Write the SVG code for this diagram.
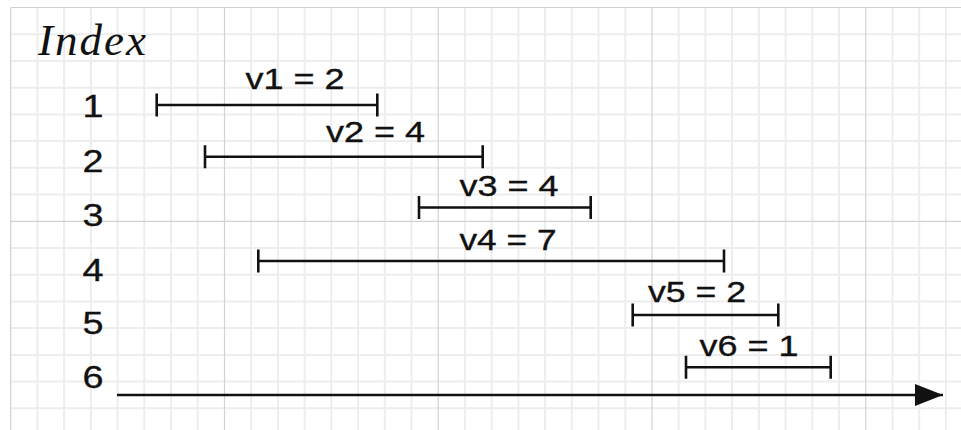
<svg xmlns="http://www.w3.org/2000/svg" width="961" height="430" viewBox="0 0 961 430">
<style>
.minor{stroke:#ededed;stroke-width:2;fill:none}
.major{stroke:#d2d2d2;stroke-width:1.2;fill:none}
.iv{stroke:#111;stroke-width:2.6;fill:none}
.lbl{font-family:"Liberation Sans",Arial,Helvetica,sans-serif;font-size:29.5px;fill:#111;stroke:#111;stroke-width:0.35}
.idx{font-family:"Liberation Sans",Arial,Helvetica,sans-serif;font-size:32px;fill:#111;stroke:#111;stroke-width:0.35}
.ttl{font-family:"Liberation Serif","Times New Roman",serif;font-style:italic;font-size:45px;fill:#111}
.axis{stroke:#111;stroke-width:2.6;fill:none}
</style>
<defs>
<marker id="ah" markerUnits="userSpaceOnUse" markerWidth="30" markerHeight="24" refX="28" refY="11" orient="auto">
<path d="M0,0 L28,11 L0,22 Z" fill="#111"/>
</marker>
</defs>
<rect x="0" y="0" width="961" height="430" fill="#fff"/>
<g id="grid">
<path class="minor" d="M37.4,7.5V430M64.1,7.5V430M90.9,7.5V430M117.6,7.5V430M144.3,7.5V430M171,7.5V430M197.7,7.5V430M251.2,7.5V430M277.9,7.5V430M304.6,7.5V430M331.3,7.5V430M358.1,7.5V430M384.8,7.5V430M411.5,7.5V430M464.9,7.5V430M491.7,7.5V430M518.4,7.5V430M545.1,7.5V430M571.8,7.5V430M598.5,7.5V430M625.3,7.5V430M678.7,7.5V430M705.4,7.5V430M732.1,7.5V430M758.9,7.5V430M785.6,7.5V430M812.3,7.5V430M839,7.5V430M892.5,7.5V430M919.2,7.5V430M945.9,7.5V430"/>
<path class="minor" d="M10.7,34.2H961M10.7,60.9H961M10.7,87.7H961M10.7,114.4H961M10.7,141.1H961M10.7,167.8H961M10.7,194.5H961M10.7,248H961M10.7,274.7H961M10.7,301.4H961M10.7,328.1H961M10.7,354.9H961M10.7,381.6H961M10.7,408.3H961"/>
<path class="major" d="M10.7,7.5V430M224.5,7.5V430M438.2,7.5V430M652,7.5V430M865.7,7.5V430M10.7,7.5H961M10.7,221.3H961"/>
</g>
<g id="title"><text class="ttl" x="38" y="55" textLength="108">Index</text></g>
<g id="index-labels">
<text class="idx" x="82.5" y="117" textLength="21" lengthAdjust="spacingAndGlyphs">1</text>
<text class="idx" x="82.5" y="171.5" textLength="21" lengthAdjust="spacingAndGlyphs">2</text>
<text class="idx" x="82.5" y="226" textLength="21" lengthAdjust="spacingAndGlyphs">3</text>
<text class="idx" x="82.5" y="280.5" textLength="21" lengthAdjust="spacingAndGlyphs">4</text>
<text class="idx" x="82.5" y="333.5" textLength="21" lengthAdjust="spacingAndGlyphs">5</text>
<text class="idx" x="82.5" y="387.5" textLength="21" lengthAdjust="spacingAndGlyphs">6</text>
</g>
<g id="v1">
<path class="iv" d="M156.7,105H377.3M156.7,93.5V116.5M377.3,93.5V116.5"/>
<text class="lbl" x="245.5" y="89.3" textLength="99" lengthAdjust="spacingAndGlyphs">v1 = 2</text>
</g>
<g id="v2">
<path class="iv" d="M205,156.7H482.7M205,145.2V168.2M482.7,145.2V168.2"/>
<text class="lbl" x="326" y="142.3" textLength="99" lengthAdjust="spacingAndGlyphs">v2 = 4</text>
</g>
<g id="v3">
<path class="iv" d="M419,207.5H590.7M419,196V219M590.7,196V219"/>
<text class="lbl" x="459.5" y="196" textLength="99" lengthAdjust="spacingAndGlyphs">v3 = 4</text>
</g>
<g id="v4">
<path class="iv" d="M258.3,261H724M258.3,249.5V272.5M724,249.5V272.5"/>
<text class="lbl" x="459.5" y="250" textLength="97" lengthAdjust="spacingAndGlyphs">v4 = 7</text>
</g>
<g id="v5">
<path class="iv" d="M632.7,315H778.3M632.7,303.5V326.5M778.3,303.5V326.5"/>
<text class="lbl" x="648" y="302.3" textLength="98" lengthAdjust="spacingAndGlyphs">v5 = 2</text>
</g>
<g id="v6">
<path class="iv" d="M686,367.3H830.7M686,355.8V378.8M830.7,355.8V378.8"/>
<text class="lbl" x="699.5" y="355.7" textLength="99" lengthAdjust="spacingAndGlyphs">v6 = 1</text>
</g>
<g id="connectors">
<path class="axis" d="M117,395H943" marker-end="url(#ah)"/>
</g>
</svg>
